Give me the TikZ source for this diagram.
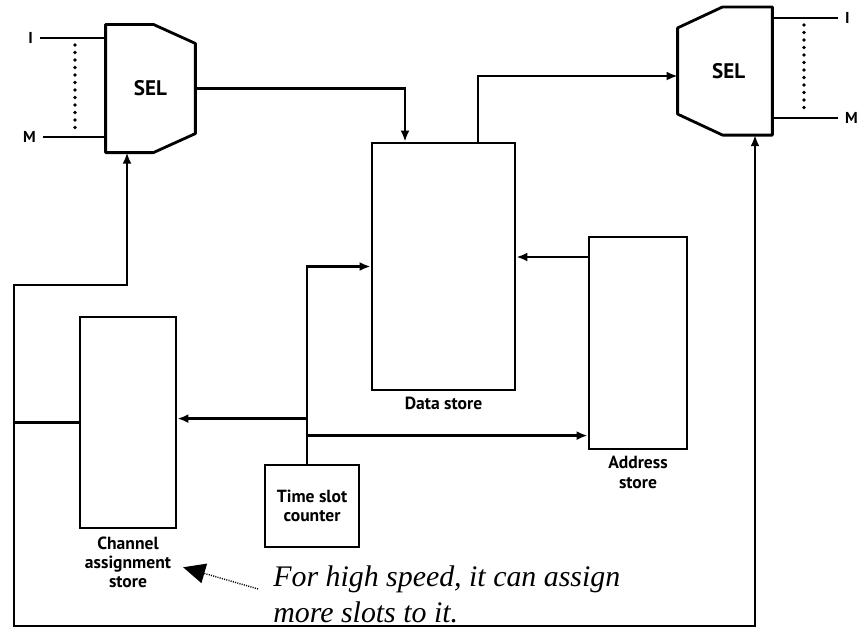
\documentclass[tikz,border=0pt]{standalone}
\usepackage{fontspec}
\setmainfont{Liberation Serif}
\newfontfamily\boxfont{PT Sans}
\usetikzlibrary{arrows.meta, positioning, calc}

\begin{document}
\begin{tikzpicture}[
  x=0.2mm, y=-0.2mm,
  line/.style={line width=1.6pt, line join=round},
  arr/.style={line width=1.6pt, -{Latex[length=2.2mm, width=1.8mm]}},
  store/.style={draw, line width=1.6pt, inner sep=0pt, font=\boxfont\bfseries\fontsize{10}{11}\selectfont, align=center},
  selbox/.style={inner sep=0pt, minimum width=#1, minimum height=25.5mm, font=\boxfont\bfseries\fontsize{12}{14}\selectfont},
  caption/.style={font=\boxfont\bfseries\fontsize{10}{11}\selectfont, align=center, inner sep=1pt},
  pinlbl/.style={font=\boxfont\bfseries\fontsize{9}{10}\selectfont, inner sep=1pt},
  dots/.style={line width=2.1pt, line cap=round, dash pattern=on 0pt off 1.5mm},
  note/.style={font=\itshape\fontsize{17}{20.5}\selectfont, align=left, inner sep=0pt},
]
\useasboundingbox (0,0) rectangle (861,638);

% ─── SELECTORS ────────────────────────────────────────────────────────────────
\node[selbox=17.8mm] (selL) at (150.5,88.5) {SEL};
\node[selbox=18.8mm] (selR) at (725,71)     {\hspace{1.5mm}SEL};

\draw[line] (selL.north west) -- ($(selL.north east)+(-42,0)$) -- ($(selL.north east)+(0,19)$)
  -- ($(selL.south east)+(0,-19)$) -- ($(selL.south east)+(-42,0)$) -- (selL.south west) -- cycle;
\draw[line] (selR.north east) -- ($(selR.north west)+(45,0)$) -- ($(selR.north west)+(0,21)$)
  -- ($(selR.south west)+(0,-21)$) -- ($(selR.south west)+(45,0)$) -- (selR.south east) -- cycle;

% channel lines 1..M
\coordinate (iL) at (40,38);
\coordinate (mL) at (43,137);
\coordinate (iR) at (838,18);
\coordinate (mR) at (838,118);
\draw[line] (iL) -- (iL -| selL.west);
\draw[line] (mL) -- (mL -| selL.west);
\draw[line] (iR -| selR.east) -- (iR);
\draw[line] (mR -| selR.east) -- (mR);
\draw[dots] (75,45) -- (75,132);
\draw[dots] (804,25) -- (804,112);
\node[pinlbl, left=1mm of iL]  {I};
\node[pinlbl, left=1mm of mL]  {M};
\node[pinlbl, right=1mm of iR] {I};
\node[pinlbl, right=1mm of mR] {M};

% ─── STORES ───────────────────────────────────────────────────────────────────
\node[store, minimum width=28.6mm, minimum height=49.4mm] (data) at (443.5,266.5) {};
\node[store, minimum width=19.6mm, minimum height=42.4mm] (addr) at (638,343)     {};
\node[store, minimum width=19.2mm, minimum height=42.2mm] (chan) at (128,422.5)   {};
\node[store, minimum width=18.8mm, minimum height=16.4mm] (tsc)  at (312,506)     {Time slot\\counter};

\node[caption, below=0.6mm of data] (datalbl) {Data store};
\node[caption, below=0.8mm of addr] (addrlbl) {Address\\store};
\node[caption, below=1mm of chan]   (chanlbl) {Channel\\assignment\\store};

% ─── DATA PATH ────────────────────────────────────────────────────────────────
\draw[arr] (selL.east) -| ([xshift=-7.7mm]data.north);
\draw[arr] ([xshift=6.9mm]data.north) |- ([yshift=-1mm]selR.west);
\draw[arr] ([yshift=17.2mm]addr.west) -- ([yshift=17.2mm]addr.west -| data.east);

% ─── TIME SLOT COUNTER ────────────────────────────────────────────────────────
\coordinate (trunk) at ([xshift=-1mm]tsc.north);
\draw[arr] (trunk) |- (data.west);
\draw[arr] ([yshift=9mm]trunk) -- ([yshift=9mm]trunk -| chan.east);
\draw[arr] ([yshift=5.6mm]trunk) -- ([yshift=5.6mm]trunk -| addr.west);

% ─── SELECT LOOP ──────────────────────────────────────────────────────────────
\coordinate (busW)  at (14,422.5);
\coordinate (busNW) at (14,285);
\coordinate (busSW) at (14,626);
\draw[line] (chan.west) -- (busW);
\draw[arr] (busW) -- (busNW) -| ([xshift=-4.7mm]selL.south);
\draw[arr] (busW) -- (busSW) -| ([xshift=6mm]selR.south);

% ─── NOTE ─────────────────────────────────────────────────────────────────────
\node[note, anchor=north west] (note) at (273,565) {For high speed, it can assign\\more slots to it.};
\draw[line width=0.8pt, dash pattern=on 0.6pt off 0.7pt, -{Triangle[length=4.4mm, width=4mm]}]
  ([xshift=-3mm, yshift=1mm]note.west) -- ([xshift=2mm, yshift=-1mm]chanlbl.east);

\end{tikzpicture}
\end{document}
